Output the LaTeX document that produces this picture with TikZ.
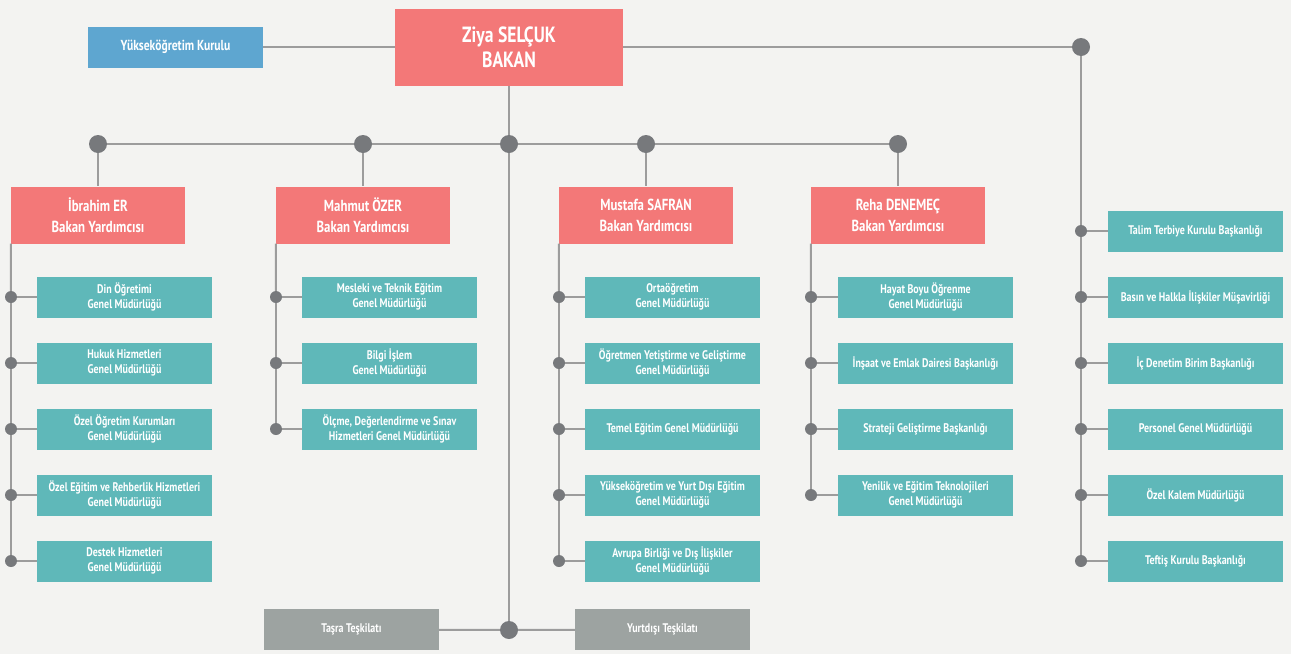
\documentclass[tikz,border=0pt]{standalone}
\usepackage{fontspec}
\setmainfont[FakeStretch=0.8]{PT Sans}
\usetikzlibrary{positioning}
\definecolor{bgc}{HTML}{F3F3F1}
\definecolor{rdc}{HTML}{F37878}
\definecolor{tlc}{HTML}{5FB8B9}
\definecolor{blc}{HTML}{5EA6D0}
\definecolor{gyc}{HTML}{9DA3A1}
\definecolor{lnc}{HTML}{9C9C9C}
\definecolor{dtc}{HTML}{77797C}
\tikzset{bx/.style={rectangle,text=white,align=center,inner sep=0pt},
 boss/.style={bx,fill=rdc,minimum width=228pt,minimum height=77pt,font=\fontsize{22}{25}\selectfont\bfseries},
 dep/.style={bx,fill=rdc,minimum width=174pt,minimum height=57pt,font=\fontsize{16}{21}\selectfont\bfseries},
 unit/.style={bx,fill=tlc,minimum width=175pt,minimum height=41pt,font=\fontsize{12.5}{15}\selectfont\bfseries},
 bd/.style={circle,fill=dtc,minimum size=18pt,inner sep=0pt},
 sd/.style={circle,fill=dtc,minimum size=12pt,inner sep=0pt},
 wire/.style={draw=lnc,line width=2pt}}
\begin{document}
\begin{tikzpicture}[x=1pt,y=-1pt]
\fill[bgc](0,0)rectangle(1291,654);
% top level
\node[boss](bakan)at(509,47){Ziya SELÇUK\\BAKAN};
\node[unit,fill=blc,font=\fontsize{14.5}{17}\selectfont\bfseries](yok)at(175.5,47){Yükseköğretim Kurulu};
\node[bd](jr)at(1081,47){};
\draw[wire](yok)--(bakan);\draw[wire](bakan)--(jr);
% deputies
\foreach\i/\x/\n in{1/98/İbrahim ER,2/363/Mahmut ÖZER,3/646/Mustafa SAFRAN,4/898/Reha DENEMEÇ}{
 \node[bd](j\i)at(\x,144){};
 \node[dep](dep\i)at(\x,215){\n\\Bakan Yardımcısı};
 \draw[wire](j\i)--(dep\i);}
\node[bd](j0)at(509,144){};
\draw[wire](j1)--(j2);\draw[wire](j2)--(j0);\draw[wire](j0)--(j3);\draw[wire](j3)--(j4);
\draw[wire](bakan)--(j0);
% units
\foreach\k/\t in{1/Din Öğretimi\\Genel Müdürlüğü,2/Hukuk Hizmetleri\\Genel Müdürlüğü,3/Özel Öğretim Kurumları\\Genel Müdürlüğü,4/Özel Eğitim ve Rehberlik Hizmetleri\\Genel Müdürlüğü,5/Destek Hizmetleri\\Genel Müdürlüğü}{
 \node[unit](a\k)at(124.5,231+66*\k){\t};\node[sd](da\k)at(11,231+66*\k){};}
\foreach\k/\t in{1/Mesleki ve Teknik Eğitim\\Genel Müdürlüğü,2/Bilgi İşlem\\Genel Müdürlüğü,3/{Ölçme, Değerlendirme ve Sınav\\Hizmetleri Genel Müdürlüğü}}{
 \node[unit](b\k)at(389.5,231+66*\k){\t};\node[sd](db\k)at(276,231+66*\k){};}
\foreach\k/\t in{1/Ortaöğretim\\Genel Müdürlüğü,2/Öğretmen Yetiştirme ve Geliştirme\\Genel Müdürlüğü,3/Temel Eğitim Genel Müdürlüğü,4/Yükseköğretim ve Yurt Dışı Eğitim\\Genel Müdürlüğü,5/Avrupa Birliği ve Dış İlişkiler\\Genel Müdürlüğü}{
 \node[unit](c\k)at(672.5,231+66*\k){\t};\node[sd](dc\k)at(559,231+66*\k){};}
\foreach\k/\t in{1/Hayat Boyu Öğrenme\\Genel Müdürlüğü,2/İnşaat ve Emlak Dairesi Başkanlığı,3/Strateji Geliştirme Başkanlığı,4/Yenilik ve Eğitim Teknolojileri\\Genel Müdürlüğü}{
 \node[unit](d\k)at(925.5,231+66*\k){\t};\node[sd](dd\k)at(811,231+66*\k){};}
\foreach\k/\t in{1/Talim Terbiye Kurulu Başkanlığı,2/Basın ve Halkla İlişkiler Müşavirliği,3/İç Denetim Birim Başkanlığı,4/Personel Genel Müdürlüğü,5/Özel Kalem Müdürlüğü,6/Teftiş Kurulu Başkanlığı}{
 \node[unit](r\k)at(1195.5,165+66*\k){\t};\node[sd](dr\k)at(1081,165+66*\k){};\draw[wire](dr\k)--(r\k);}
\draw[wire](jr)--(dr1);
\foreach\k in{1,...,5}{\pgfmathtruncatemacro{\m}{\k+1}\draw[wire](dr\k)--(dr\m);}
% trunks under deputies
\foreach\c/\n in{a/5,b/3,c/5,d/4}{\foreach\k in{1,...,\n}{\draw[wire](d\c\k)--(\c\k);}}
\draw[wire](dep1.south west)--(da1);\draw[wire](dep2.south west)--(db1);
\draw[wire](dep3.south west)--(dc1);\draw[wire](dep4.south west)--(dd1);
\foreach\k in{1,...,4}{\pgfmathtruncatemacro{\m}{\k+1}\draw[wire](da\k)--(da\m);\draw[wire](dc\k)--(dc\m);}
\foreach\k in{1,2}{\pgfmathtruncatemacro{\m}{\k+1}\draw[wire](db\k)--(db\m);}
\foreach\k in{1,2,3}{\pgfmathtruncatemacro{\m}{\k+1}\draw[wire](dd\k)--(dd\m);}
% bottom
\node[bd](jb)at(509,630){};
\node[unit,fill=gyc](tasra)at(351.5,629.5){Taşra Teşkilatı};
\node[unit,fill=gyc](yurt)at(662.5,629.5){Yurtdışı Teşkilatı};
\draw[wire](j0)--(jb);\draw[wire](tasra)--(jb);\draw[wire](jb)--(yurt);
\end{tikzpicture}
\end{document}
